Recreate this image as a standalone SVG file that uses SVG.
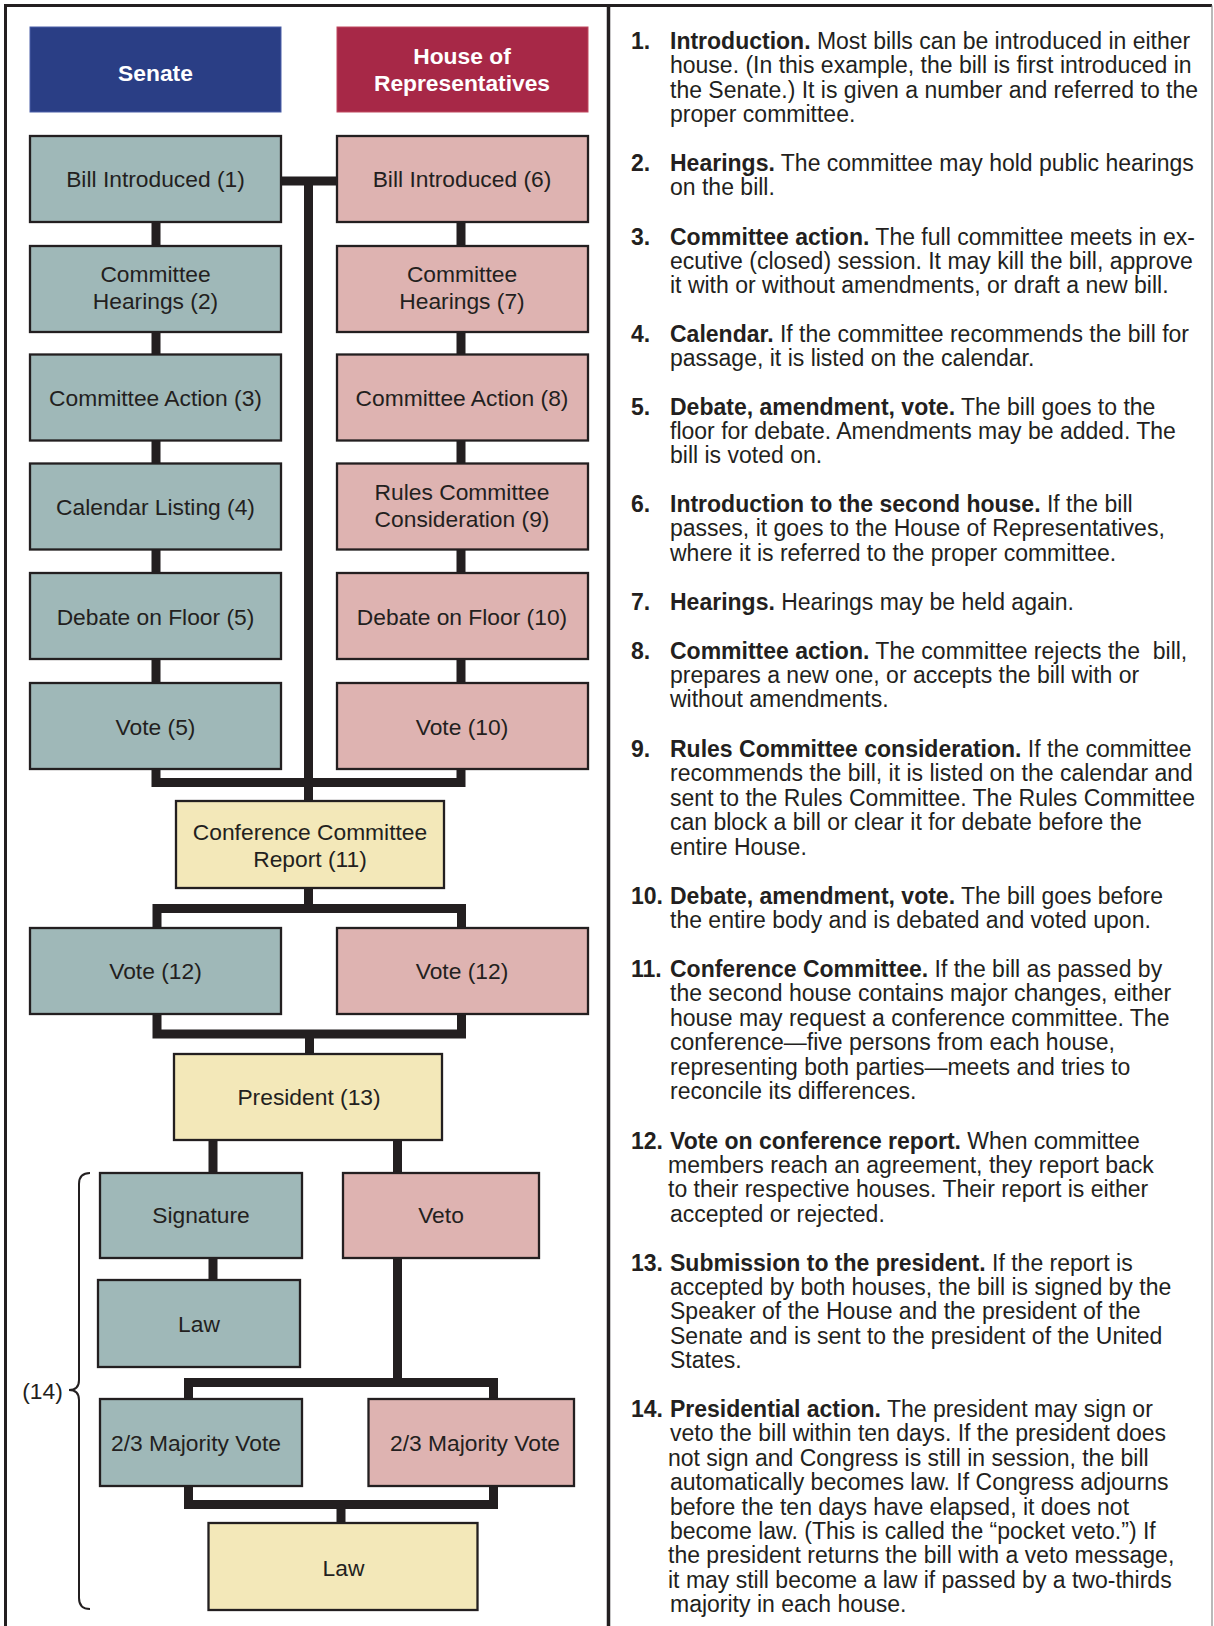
<svg xmlns="http://www.w3.org/2000/svg" width="1214" height="1626" viewBox="0 0 1214 1626">
<style>
.frame{fill:none;stroke:#231f20;stroke-width:3}
.box{stroke:#231f20;stroke-width:2.3}
.sen{fill:#9fb8b8}
.hou{fill:#deb3b1}
.yel{fill:#f3e8b9}
.lbl{font-family:"Liberation Sans",Arial,sans-serif;font-size:22.8px;fill:#231f20;text-anchor:middle}
.hdr{font-family:"Liberation Sans",Arial,sans-serif;font-size:22.8px;font-weight:bold;fill:#ffffff;text-anchor:middle}
.con{fill:none;stroke:#231f20;stroke-width:9;stroke-linejoin:miter;stroke-linecap:butt}
.d{font-family:"Liberation Sans",Arial,sans-serif;font-size:23px;fill:#231f20}
.b{font-weight:bold}
</style>
<rect width="1214" height="1626" fill="#ffffff"/>
<g id="frame">
<path class="frame" d="M5.5 1626 V5.5 H1212"/>
<line x1="608.5" y1="5.5" x2="608.5" y2="1626" stroke="#231f20" stroke-width="3.5"/>
<line x1="1212" y1="5.5" x2="1212" y2="1626" stroke="#8a8a8a" stroke-width="1.2"/>
</g>
<g id="connectors">
<path class="con" d="M281 181 H337"/>
<path class="con" d="M308.5 177 V801"/>
<path class="con" d="M156 222 V246 M156 332 V354.5 M156 440.5 V463.5 M156 549.5 V573 M156 659 V683"/>
<path class="con" d="M461 222 V246 M461 332 V354.5 M461 440.5 V463.5 M461 549.5 V573 M461 659 V683"/>
<path class="con" d="M156 769 V782.5 H461 V769"/>
<path class="con" d="M308.5 888 V908.5"/>
<path class="con" d="M157 928 V908.5 H461.5 V928"/>
<path class="con" d="M157 1014 V1034 H461.5 V1014"/>
<path class="con" d="M309.5 1034 V1054"/>
<path class="con" d="M213 1140 V1173 M213 1258 V1280"/>
<path class="con" d="M397.5 1140 V1173 M397.5 1258 V1382.5"/>
<path class="con" d="M188.5 1399 V1382.5 H493.5 V1399"/>
<path class="con" d="M188.5 1486 V1504.5 H493.5 V1486"/>
<path class="con" d="M341 1504.5 V1523"/>
</g>
<g id="senate-header"><rect x="30" y="27" width="251" height="85" fill="#2a3e85" stroke="#4a5fa8" stroke-width="1"/><text class="hdr" x="155.5" y="81">Senate</text></g>
<g id="house-header"><rect x="337" y="27" width="251" height="85" fill="#a72847" stroke="#c0485f" stroke-width="1"/><text class="hdr" x="462" y="63.5">House of</text><text class="hdr" x="462" y="90.5">Representatives</text></g>
<g id="s1"><rect class="box sen" x="30" y="136" width="251" height="86"/><text class="lbl" x="155.5" y="187">Bill Introduced (1)</text></g>
<g id="s2"><rect class="box sen" x="30" y="246" width="251" height="86"/><text class="lbl" x="155.5" y="281.5">Committee</text><text class="lbl" x="155.5" y="308.5">Hearings (2)</text></g>
<g id="s3"><rect class="box sen" x="30" y="354.5" width="251" height="86"/><text class="lbl" x="155.5" y="405.5">Committee Action (3)</text></g>
<g id="s4"><rect class="box sen" x="30" y="463.5" width="251" height="86"/><text class="lbl" x="155.5" y="515">Calendar Listing (4)</text></g>
<g id="s5"><rect class="box sen" x="30" y="573" width="251" height="86"/><text class="lbl" x="155.5" y="624.5">Debate on Floor (5)</text></g>
<g id="s6"><rect class="box sen" x="30" y="683" width="251" height="86"/><text class="lbl" x="155.5" y="734.5">Vote (5)</text></g>
<g id="h1"><rect class="box hou" x="337" y="136" width="251" height="86"/><text class="lbl" x="462" y="187">Bill Introduced (6)</text></g>
<g id="h2"><rect class="box hou" x="337" y="246" width="251" height="86"/><text class="lbl" x="462" y="281.5">Committee</text><text class="lbl" x="462" y="308.5">Hearings (7)</text></g>
<g id="h3"><rect class="box hou" x="337" y="354.5" width="251" height="86"/><text class="lbl" x="462" y="405.5">Committee Action (8)</text></g>
<g id="h4"><rect class="box hou" x="337" y="463.5" width="251" height="86"/><text class="lbl" x="462" y="500">Rules Committee</text><text class="lbl" x="462" y="527">Consideration (9)</text></g>
<g id="h5"><rect class="box hou" x="337" y="573" width="251" height="86"/><text class="lbl" x="462" y="624.5">Debate on Floor (10)</text></g>
<g id="h6"><rect class="box hou" x="337" y="683" width="251" height="86"/><text class="lbl" x="462" y="734.5">Vote (10)</text></g>
<g id="conference"><rect class="box yel" x="176" y="801" width="268" height="87"/><text class="lbl" x="310" y="840">Conference Committee</text><text class="lbl" x="310" y="867">Report (11)</text></g>
<g id="svote12"><rect class="box sen" x="30" y="928" width="251" height="86"/><text class="lbl" x="155.5" y="979">Vote (12)</text></g>
<g id="hvote12"><rect class="box hou" x="337" y="928" width="251" height="86"/><text class="lbl" x="462" y="979">Vote (12)</text></g>
<g id="president"><rect class="box yel" x="174" y="1054" width="268" height="86"/><text class="lbl" x="309" y="1105">President (13)</text></g>
<g id="signature"><rect class="box sen" x="100" y="1173" width="202" height="85"/><text class="lbl" x="201" y="1223">Signature</text></g>
<g id="veto"><rect class="box hou" x="343" y="1173" width="196" height="85"/><text class="lbl" x="441" y="1223">Veto</text></g>
<g id="law1"><rect class="box sen" x="98" y="1280" width="202" height="87"/><text class="lbl" x="199" y="1332">Law</text></g>
<g id="smaj"><rect class="box sen" x="100" y="1399" width="202" height="87"/><text class="lbl" x="196" y="1451">2/3 Majority Vote</text></g>
<g id="hmaj"><rect class="box hou" x="368.5" y="1399" width="205.5" height="87"/><text class="lbl" x="475" y="1451">2/3 Majority Vote</text></g>
<g id="law2"><rect class="box yel" x="208.5" y="1523" width="269" height="87"/><text class="lbl" x="343.5" y="1576">Law</text></g>
<g id="brace14">
<path d="M90 1173 Q79 1173 79 1184 V1380 Q79 1390 69 1390 Q79 1390 79 1400 V1598 Q79 1609 90 1609" fill="none" stroke="#231f20" stroke-width="2"/>
<text class="lbl" x="42.5" y="1399">(14)</text>
</g>
<g id="descriptions">
<text class="d" y="49"><tspan x="631" class="b">1.</tspan><tspan x="670" class="b">Introduction.</tspan> Most bills can be introduced in either<tspan x="670" dy="24.4">house. (In this example, the bill is first introduced in</tspan><tspan x="670" dy="24.4">the Senate.) It is given a number and referred to the</tspan><tspan x="670" dy="24.4">proper committee.</tspan></text>
<text class="d" y="171"><tspan x="631" class="b">2.</tspan><tspan x="670" class="b">Hearings.</tspan> The committee may hold public hearings<tspan x="670" dy="24.4">on the bill.</tspan></text>
<text class="d" y="244.5"><tspan x="631" class="b">3.</tspan><tspan x="670" class="b">Committee action.</tspan> The full committee meets in ex-<tspan x="670" dy="24.4">ecutive (closed) session. It may kill the bill, approve</tspan><tspan x="670" dy="24.4">it with or without amendments, or draft a new bill.</tspan></text>
<text class="d" y="341.5"><tspan x="631" class="b">4.</tspan><tspan x="670" class="b">Calendar.</tspan> If the committee recommends the bill for<tspan x="670" dy="24.4">passage, it is listed on the calendar.</tspan></text>
<text class="d" y="414.5"><tspan x="631" class="b">5.</tspan><tspan x="670" class="b">Debate, amendment, vote.</tspan> The bill goes to the<tspan x="670" dy="24.4">floor for debate. Amendments may be added. The</tspan><tspan x="670" dy="24.4">bill is voted on.</tspan></text>
<text class="d" y="512"><tspan x="631" class="b">6.</tspan><tspan x="670" class="b">Introduction to the second house.</tspan> If the bill<tspan x="670" dy="24.4">passes, it goes to the House of Representatives,</tspan><tspan x="670" dy="24.4">where it is referred to the proper committee.</tspan></text>
<text class="d" y="610"><tspan x="631" class="b">7.</tspan><tspan x="670" class="b">Hearings.</tspan> Hearings may be held again.</text>
<text class="d" y="658.5"><tspan x="631" class="b">8.</tspan><tspan x="670" class="b">Committee action.</tspan> The committee rejects the&#160; bill,<tspan x="670" dy="24.4">prepares a new one, or accepts the bill with or</tspan><tspan x="670" dy="24.4">without amendments.</tspan></text>
<text class="d" y="757"><tspan x="631" class="b">9.</tspan><tspan x="670" class="b">Rules Committee consideration.</tspan> If the committee<tspan x="670" dy="24.4">recommends the bill, it is listed on the calendar and</tspan><tspan x="670" dy="24.4">sent to the Rules Committee. The Rules Committee</tspan><tspan x="670" dy="24.4">can block a bill or clear it for debate before the</tspan><tspan x="670" dy="24.4">entire House.</tspan></text>
<text class="d" y="904"><tspan x="631" class="b">10.</tspan><tspan x="670" class="b">Debate, amendment, vote.</tspan> The bill goes before<tspan x="670" dy="24.4">the entire body and is debated and voted upon.</tspan></text>
<text class="d" y="977"><tspan x="631" class="b">11.</tspan><tspan x="670" class="b">Conference Committee.</tspan> If the bill as passed by<tspan x="670" dy="24.4">the second house contains major changes, either</tspan><tspan x="670" dy="24.4">house may request a conference committee. The</tspan><tspan x="670" dy="24.4">conference—five persons from each house,</tspan><tspan x="670" dy="24.4">representing both parties—meets and tries to</tspan><tspan x="670" dy="24.4">reconcile its differences.</tspan></text>
<text class="d" y="1148.5"><tspan x="631" class="b">12.</tspan><tspan x="670" class="b">Vote on conference report.</tspan> When committee<tspan x="668" dy="24.4">members reach an agreement, they report back</tspan><tspan x="668" dy="24.4">to their respective houses. Their report is either</tspan><tspan x="670" dy="24.4">accepted or rejected.</tspan></text>
<text class="d" y="1270.5"><tspan x="631" class="b">13.</tspan><tspan x="670" class="b">Submission to the president.</tspan> If the report is<tspan x="670" dy="24.4">accepted by both houses, the bill is signed by the</tspan><tspan x="670" dy="24.4">Speaker of the House and the president of the</tspan><tspan x="670" dy="24.4">Senate and is sent to the president of the United</tspan><tspan x="670" dy="24.4">States.</tspan></text>
<text class="d" y="1417"><tspan x="631" class="b">14.</tspan><tspan x="670" class="b">Presidential action.</tspan> The president may sign or<tspan x="670" dy="24.4">veto the bill within ten days. If the president does</tspan><tspan x="668" dy="24.4">not sign and Congress is still in session, the bill</tspan><tspan x="670" dy="24.4">automatically becomes law. If Congress adjourns</tspan><tspan x="670" dy="24.4">before the ten days have elapsed, it does not</tspan><tspan x="670" dy="24.4">become law. (This is called the “pocket veto.”) If</tspan><tspan x="668" dy="24.4">the president returns the bill with a veto message,</tspan><tspan x="668" dy="24.4">it may still become a law if passed by a two-thirds</tspan><tspan x="670" dy="24.4">majority in each house.</tspan></text>
</g>
</svg>
